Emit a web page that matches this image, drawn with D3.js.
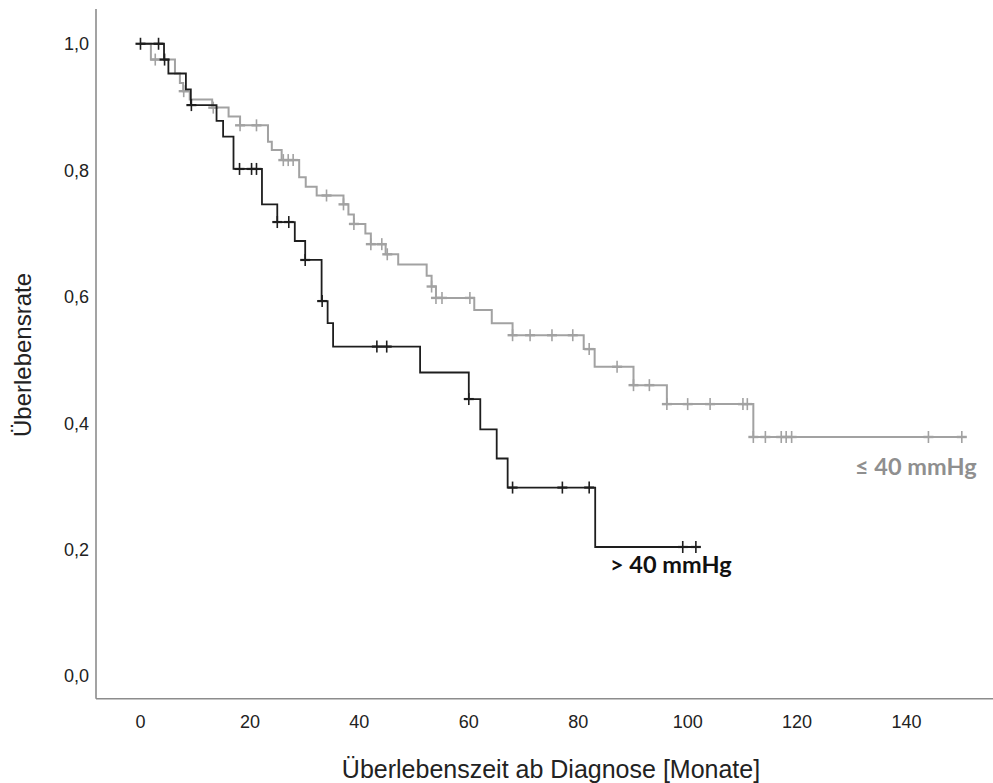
<!DOCTYPE html>
<html>
<head>
<meta charset="utf-8">
<script src="https://cdn.jsdelivr.net/npm/d3@7"></script>
<style>
  html, body { margin: 0; padding: 0; background: #fff; }
  svg { display: block; }
  .tick-label { font-family: "Liberation Sans", Arial, sans-serif; fill: #222; }
  .curve-label { font-family: Lato, "Open Sans", sans-serif; font-weight: bold; }
</style>
</head>
<body>
<svg id="chart"></svg>
<script>
// --- Daten ---
const groups = ["> 40 mmHg", "≤ 40 mmHg"];

// > 40 mmHg (schwarz)
const highEventTimes = [4.3, 5.1, 8.3, 9.2, 13.9, 15.1, 17.0, 22.2, 25.0, 28.2,
  30.1, 33.1, 34.2, 35.2, 51.1, 60.0, 62.1, 65.1, 67.1, 83.1];
const highSurvival = [0.975, 0.953, 0.928, 0.903, 0.878, 0.853, 0.802, 0.746, 0.718, 0.688,
  0.658, 0.593, 0.558, 0.521, 0.480, 0.438, 0.390, 0.344, 0.298, 0.204];
const highCensorTimes = [0.0, 3.3, 4.4, 9.3, 18.1, 20.3, 21.2, 25.0, 27.1, 30.1,
  33.2, 43.2, 45.0, 60.0, 68.0, 77.1, 82.0, 99.1, 101.5];

// <= 40 mmHg (grau)
const lowEventTimes = [1.9, 6.3, 7.2, 7.8, 9.0, 13.1, 16.1, 18.2, 23.3, 24.0,
  25.8, 29.0, 30.2, 32.2, 37.1, 38.0, 39.0, 41.1, 42.1, 44.8,
  47.1, 52.3, 53.2, 54.0, 61.0, 64.2, 68.0, 81.0, 83.0, 90.1, 96.2, 112.0];
const lowSurvival = [0.975, 0.953, 0.938, 0.925, 0.912, 0.899, 0.885, 0.871, 0.845, 0.832,
  0.816, 0.789, 0.774, 0.760, 0.746, 0.730, 0.715, 0.700, 0.683, 0.667,
  0.651, 0.633, 0.616, 0.598, 0.579, 0.558, 0.539, 0.517, 0.489, 0.460, 0.430, 0.378];
const lowCensorTimes = [2.7, 7.9, 13.3, 18.2, 21.2, 26.1, 27.0, 27.9, 34.0, 37.1,
  39.0, 42.1, 44.1, 45.1, 53.2, 54.0, 55.1, 60.2, 68.0, 71.2, 75.2, 79.0, 82.0,
  87.1, 90.1, 93.0, 96.2, 100.0, 104.1, 110.1, 110.9, 112.0, 114.2, 117.1,
  118.0, 119.0, 144.0, 150.1];

const xTicks = [0, 20, 40, 60, 80, 100, 120, 140];
const yTicks = [0, 0.2, 0.4, 0.6, 0.8, 1.0];

const xTitle = "Überlebenszeit ab Diagnose [Monate]";
const yTitle = "Überlebensrate";

// --- SVG ---
const width = 993, height = 783;
const svg = d3.select("#chart").attr("width", width).attr("height", height);

const x = d3.scaleLinear().domain([-8.13, 155.8]).range([96, 993]);
const y = d3.scaleLinear().domain([-0.036, 1.055]).range([698.7, 9]);

// Achsenlinien
svg.append("line")
  .attr("x1", x.range()[0]).attr("x2", x.range()[0])
  .attr("y1", y.range()[1]).attr("y2", y.range()[0])
  .attr("stroke", "#8c8c8c").attr("stroke-width", 1.6);
svg.append("line")
  .attr("x1", x.range()[0]).attr("x2", x.range()[1])
  .attr("y1", y.range()[0]).attr("y2", y.range()[0])
  .attr("stroke", "#8c8c8c").attr("stroke-width", 1.6);

// Tick-Beschriftungen (keine Tickstriche, wie im Original)
svg.append("g").selectAll("text")
  .data(xTicks)
  .join("text")
  .attr("class", "tick-label")
  .attr("x", d => x(d))
  .attr("y", 728)
  .attr("text-anchor", "middle")
  .attr("font-size", 18)
  .text(d => d);

svg.append("g").selectAll("text")
  .data(yTicks)
  .join("text")
  .attr("class", "tick-label")
  .attr("x", 89)
  .attr("y", d => y(d) + 6.5)
  .attr("text-anchor", "end")
  .attr("font-size", 18)
  .text(d => d3.format(".1f")(d).replace(".", ","));

svg.append("text")
  .attr("class", "tick-label")
  .attr("x", 551).attr("y", 778)
  .attr("text-anchor", "middle")
  .attr("font-size", 25)
  .text(xTitle);

svg.append("text")
  .attr("class", "tick-label")
  .attr("transform", "translate(31,355) rotate(-90)")
  .attr("text-anchor", "middle")
  .attr("font-size", 24)
  .text(yTitle);

// --- Kaplan-Meier-Kurven ---
function stepPoints(times, surv, censors) {
  const end = Math.max(d3.max(times), d3.max(censors));
  const pts = [[0, 1]];
  times.forEach((t, i) => pts.push([t, surv[i]]));
  pts.push([end, surv[surv.length - 1]]);
  return pts;
}
function survivalAt(times, surv, t) {
  let s = 1;
  times.forEach((et, i) => { if (et <= t) s = surv[i]; });
  return s;
}

const line = d3.line()
  .x(d => x(d[0]))
  .y(d => y(d[1]))
  .curve(d3.curveStepAfter);

const series = [
  { name: groups[1], times: lowEventTimes, surv: lowSurvival, censors: lowCensorTimes, color: "#a2a2a2", width: 2 },
  { name: groups[0], times: highEventTimes, surv: highSurvival, censors: highCensorTimes, color: "#1e1e1e", width: 1.8 }
];

series.forEach(s => {
  const g = svg.append("g");
  g.append("path")
    .datum(stepPoints(s.times, s.surv, s.censors))
    .attr("fill", "none")
    .attr("stroke", s.color)
    .attr("stroke-width", s.width)
    .attr("d", line);

  const marks = g.selectAll("g.censor")
    .data(s.censors)
    .join("g")
    .attr("class", "censor")
    .attr("transform", d => `translate(${x(d)},${y(survivalAt(s.times, s.surv, d))})`);
  marks.append("line")
    .attr("y1", -6).attr("y2", 6)
    .attr("stroke", s.color).attr("stroke-width", 1.6);
  marks.append("line")
    .attr("x1", -5).attr("x2", 5)
    .attr("stroke", s.color).attr("stroke-width", s.width + 0.4);
});

// Gruppenbeschriftungen
svg.append("text")
  .attr("class", "curve-label")
  .attr("x", 610).attr("y", 573)
  .attr("font-size", 23.5)
  .attr("fill", "#111")
  .text(groups[0]);

svg.append("text")
  .attr("class", "curve-label")
  .attr("x", 855).attr("y", 475)
  .attr("font-size", 23.5)
  .attr("fill", "#8f8f8f")
  .text(groups[1]);
</script>
</body>
</html>
